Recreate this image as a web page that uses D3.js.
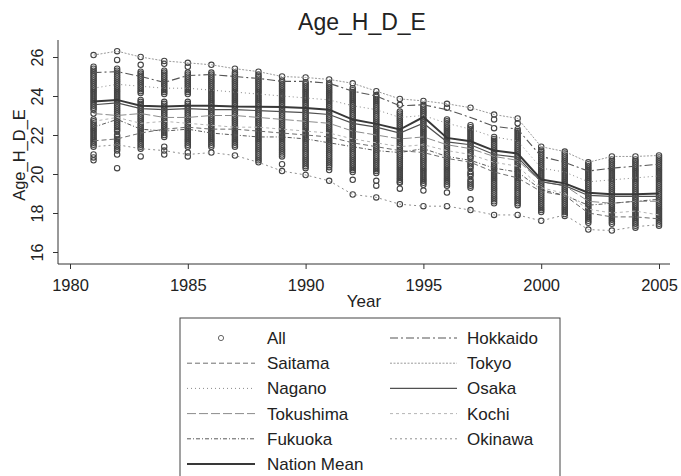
<!DOCTYPE html>
<html>
<head>
<meta charset="utf-8">
<script src="https://cdn.jsdelivr.net/npm/d3@7"></script>
<style>
  html, body { margin: 0; padding: 0; background: #fff; }
  svg { display: block; font-family: "Liberation Sans", Arial, sans-serif; }
</style>
</head>
<body>
<svg id="chart" width="681" height="476"></svg>
<script>
// Survey years
const years = d3.range(1981, 2006);

// Every prefecture's value per year (one string per year, 1981..2005)
const allValues = [
  "26.1 25.5 25.4 25.3 25.2 25.1 25.0 24.9 24.8 24.7 24.6 24.5 24.4 24.3 24.2 24.1 24.0 23.9 23.8 23.7 23.6 23.5 23.4 23.3 23.1 22.8 22.7 22.6 22.5 22.4 22.3 22.2 22.1 22.0 21.9 21.8 21.7 21.6 21.5 21.4 21.0 20.85 20.7",
  "26.3 25.85 25.4 25.3 25.2 25.1 25.0 24.9 24.8 24.7 24.6 24.5 24.4 24.3 24.2 24.1 24.0 23.9 23.8 23.7 23.6 23.5 23.4 23.3 23.2 23.1 23.0 22.9 22.8 22.7 22.6 22.5 22.4 22.3 22.2 22.0 21.9 21.8 21.7 21.6 21.5 21.4 21.3 21.2 21.0 20.3",
  "26.0 25.6 25.25 25.15 25.05 24.95 24.85 24.75 24.65 24.55 24.45 24.35 24.25 24.15 23.8 23.7 23.6 23.5 23.4 23.3 23.2 23.1 23.0 22.9 22.8 22.7 22.6 22.5 22.4 22.3 22.2 22.1 22.0 21.9 21.8 21.7 21.6 21.5 21.4 21.3 20.9",
  "25.8 25.65 25.3 25.2 25.1 25.0 24.9 24.8 24.7 24.6 24.5 24.4 24.3 24.2 24.1 23.7 23.6 23.5 23.4 23.3 23.2 23.1 23.0 22.9 22.8 22.7 22.6 22.5 22.4 22.3 22.2 22.1 22.0 21.9 21.4 21.2 21.0",
  "25.7 25.5 25.2 25.1 25.0 24.9 24.8 24.7 24.6 24.5 24.4 24.3 24.2 24.1 23.7 23.6 23.5 23.4 23.3 23.2 23.1 23.0 22.9 22.8 22.7 22.6 22.5 22.4 22.3 22.2 22.1 22.0 21.9 21.8 21.7 21.6 21.5 21.4 21.1 20.9",
  "25.6 25.2 25.1 25.0 24.9 24.8 24.7 24.6 24.5 24.4 24.3 24.2 24.1 24.0 23.9 23.8 23.7 23.6 23.5 23.4 23.3 23.2 23.1 23.0 22.9 22.8 22.7 22.6 22.5 22.4 22.3 22.2 22.1 22.0 21.9 21.8 21.7 21.6 21.5 21.4 21.1",
  "25.4 25.2 25.1 25.0 24.9 24.8 24.7 24.6 24.5 24.4 24.3 24.2 24.1 24.0 23.9 23.8 23.7 23.6 23.5 23.4 23.3 23.2 23.1 23.0 22.9 22.8 22.7 22.6 22.5 22.4 22.3 22.2 22.1 22.0 21.9 21.8 21.7 21.6 21.5 21.4 20.95",
  "25.25 25.1 25.0 24.9 24.8 24.7 24.6 24.5 24.4 24.3 24.2 24.1 24.0 23.9 23.8 23.7 23.6 23.5 23.4 23.3 23.2 23.1 23.0 22.9 22.8 22.7 22.6 22.5 22.4 22.3 22.2 22.1 22.0 21.9 21.8 21.7 21.6 21.5 21.4 21.3 21.2 21.1 21.0 20.9 20.8 20.7 20.6",
  "25.0 24.8 24.7 24.6 24.5 24.4 24.3 24.2 24.1 24.0 23.9 23.8 23.7 23.6 23.5 23.4 23.3 23.2 23.1 23.0 22.9 22.8 22.7 22.6 22.5 22.4 22.3 22.2 22.1 22.0 21.9 21.8 21.7 21.6 21.5 21.4 21.3 21.2 21.1 21.0 20.9 20.5 20.15",
  "24.95 24.7 24.6 24.5 24.4 24.3 24.2 24.1 24.0 23.9 23.8 23.7 23.6 23.5 23.4 23.3 23.2 23.1 23.0 22.9 22.8 22.7 22.6 22.5 22.4 22.3 22.2 22.1 22.0 21.9 21.8 21.7 21.6 21.5 21.4 21.3 21.2 21.1 21.0 20.9 20.8 20.7 20.6 20.5 20.4 20.3 19.95",
  "24.85 24.65 24.55 24.45 24.35 24.25 24.15 24.05 23.95 23.85 23.75 23.65 23.55 23.45 23.35 23.25 23.15 23.05 22.95 22.85 22.75 22.65 22.55 22.45 22.35 22.25 22.15 22.05 21.95 21.85 21.75 21.65 21.55 21.45 21.35 21.25 21.15 21.05 20.95 20.85 20.75 20.65 20.55 20.45 20.35 20.2 19.65",
  "24.65 24.4 24.3 24.2 24.1 24.0 23.9 23.8 23.7 23.6 23.5 23.4 23.3 23.2 23.1 23.0 22.9 22.8 22.7 22.6 22.5 22.4 22.3 22.2 22.1 22.0 21.9 21.8 21.7 21.6 21.5 21.4 21.3 21.2 21.1 21.0 20.9 20.8 20.7 20.6 20.5 20.4 20.3 20.2 20.1 19.7 18.95",
  "24.25 24.05 23.95 23.85 23.75 23.65 23.55 23.45 23.35 23.25 23.15 23.05 22.95 22.85 22.75 22.65 22.55 22.45 22.35 22.25 22.15 22.05 21.95 21.85 21.75 21.65 21.55 21.45 21.35 21.25 21.15 21.05 20.95 20.85 20.75 20.65 20.55 20.45 20.35 20.25 20.15 20.05 19.65 19.4 18.8",
  "23.85 23.55 23.2 23.1 23.0 22.9 22.8 22.7 22.6 22.5 22.4 22.3 22.2 22.1 22.0 21.9 21.8 21.7 21.6 21.5 21.4 21.3 21.2 21.1 21.0 20.9 20.8 20.7 20.6 20.5 20.4 20.3 20.2 20.1 20.0 19.9 19.8 19.7 19.6 19.55 19.25 18.45",
  "23.75 23.55 23.45 23.35 23.25 23.15 23.05 22.95 22.85 22.75 22.65 22.55 22.45 22.35 22.25 22.15 22.05 21.95 21.85 21.75 21.65 21.55 21.45 21.35 21.25 21.15 21.05 20.95 20.85 20.75 20.65 20.55 20.45 20.35 20.25 20.15 20.05 19.95 19.85 19.75 19.65 19.55 19.45 19.15 18.35",
  "23.6 23.4 22.8 22.7 22.6 22.5 22.4 22.3 22.2 22.1 22.0 21.9 21.8 21.7 21.6 21.5 21.4 21.3 21.2 21.1 21.0 20.9 20.8 20.7 20.6 20.5 20.4 20.3 20.2 20.1 20.0 19.9 19.8 19.7 19.6 19.5 19.4 19.05 18.35",
  "23.4 22.5 22.4 22.3 22.2 22.1 22.0 21.9 21.8 21.7 21.6 21.5 21.4 21.3 21.2 21.1 21.0 20.9 20.8 20.6 20.5 20.4 20.3 20.1 20.0 19.9 19.7 19.6 19.5 19.4 19.3 18.7 18.15",
  "23.05 22.8 22.35 21.9 21.8 21.7 21.6 21.5 21.4 21.3 21.2 21.1 21.0 20.9 20.8 20.7 20.6 20.5 20.4 20.3 20.2 20.1 20.0 19.9 19.8 19.7 19.6 19.5 19.4 19.3 19.2 19.1 19.0 18.9 18.8 18.7 18.6 18.5 17.9",
  "22.85 22.6 22.3 22.2 22.1 22.0 21.9 21.8 21.7 21.6 21.5 21.4 21.3 21.2 21.1 21.0 20.9 20.8 20.7 20.6 20.5 20.4 20.3 20.2 20.1 20.0 19.9 19.8 19.7 19.6 19.5 19.4 19.3 19.2 19.1 19.0 18.9 18.8 18.7 18.6 18.5 18.4 17.9",
  "21.4 21.25 21.15 21.05 20.95 20.85 20.75 20.65 20.55 20.45 20.35 20.25 20.15 20.05 19.95 19.85 19.75 19.65 19.55 19.45 19.35 19.25 19.15 19.05 18.95 18.85 18.75 18.65 18.55 18.45 18.35 18.25 18.15 18.05 17.6",
  "21.15 21.05 20.95 20.85 20.75 20.65 20.55 20.45 20.35 20.25 20.15 20.05 19.95 19.85 19.75 19.65 19.55 19.45 19.35 19.25 19.15 19.05 18.95 18.85 18.75 18.65 18.55 18.45 18.35 18.25 18.15 18.05 17.95 17.85",
  "20.6 20.5 20.4 20.3 20.2 20.1 20.0 19.9 19.8 19.7 19.6 19.5 19.4 19.3 19.2 19.1 19.0 18.9 18.8 18.7 18.6 18.5 18.4 18.3 18.2 18.1 18.0 17.9 17.8 17.7 17.6 17.5 17.15",
  "20.9 20.75 20.65 20.55 20.45 20.35 20.25 20.15 20.05 19.95 19.85 19.75 19.65 19.55 19.45 19.35 19.25 19.15 19.05 18.95 18.85 18.75 18.65 18.55 18.45 18.35 18.25 18.15 18.05 17.95 17.85 17.75 17.65 17.55 17.45 17.1",
  "20.9 20.75 20.65 20.55 20.45 20.35 20.25 20.15 20.05 19.95 19.85 19.75 19.65 19.55 19.45 19.35 19.25 19.15 19.05 18.95 18.85 18.75 18.65 18.55 18.45 18.35 18.25 18.15 18.05 17.95 17.85 17.75 17.65 17.55 17.45 17.35 17.25",
  "20.95 20.85 20.75 20.65 20.55 20.45 20.35 20.25 20.15 20.05 19.95 19.85 19.75 19.65 19.55 19.45 19.35 19.25 19.15 19.05 18.95 18.85 18.75 18.65 18.55 18.45 18.35 18.25 18.15 18.05 17.95 17.85 17.75 17.65 17.55 17.45 17.35"
];

// Selected prefectures and the national mean, 1981..2005
const hokkaido  = [25.2, 25.25, 25.0, 24.7, 25.05, 25.1, 25.0, 24.9, 24.75, 24.75, 24.65, 24.25, 24.0, 23.5, 23.55, 23.3, 22.9, 22.45, 22.3, 20.9, 20.6, 20.15, 20.3, 20.4, 20.5];
const saitama   = [21.7, 21.8, 22.1, 22.3, 22.4, 22.3, 22.3, 22.2, 22.1, 22.0, 21.9, 21.6, 21.4, 21.2, 21.1, 20.8, 20.6, 20.1, 19.8, 19.1, 18.9, 18.0, 17.8, 17.8, 17.7];
const tokyo     = [26.1, 26.3, 26.0, 25.8, 25.7, 25.6, 25.4, 25.25, 25.0, 24.95, 24.85, 24.65, 24.25, 23.85, 23.75, 23.6, 23.4, 23.05, 22.85, 21.4, 21.15, 20.6, 20.9, 20.9, 20.95];
const nagano    = [24.4, 24.6, 24.5, 24.4, 24.4, 24.3, 24.2, 24.1, 24.0, 23.9, 23.8, 23.5, 23.3, 22.9, 23.0, 22.6, 22.3, 21.9, 21.7, 20.3, 20.1, 19.6, 19.7, 19.8, 19.9];
const osaka     = [23.55, 23.65, 23.35, 23.3, 23.35, 23.3, 23.3, 23.25, 23.2, 23.15, 23.05, 22.6, 22.4, 22.1, 22.6, 21.65, 21.5, 21.0, 20.85, 19.6, 19.4, 18.9, 18.85, 18.85, 18.85];
const tokushima = [23.1, 23.0, 23.1, 22.9, 22.9, 23.0, 23.0, 22.9, 22.8, 22.7, 22.6, 22.2, 22.0, 21.8, 21.9, 21.5, 21.3, 20.9, 20.7, 19.6, 19.4, 18.6, 18.5, 18.6, 18.6];
const kochi     = [22.7, 22.9, 22.6, 22.7, 22.6, 22.5, 22.4, 22.4, 22.3, 22.2, 22.1, 21.8, 21.6, 21.4, 21.5, 21.2, 21.0, 20.6, 20.4, 19.3, 19.0, 18.2, 18.0, 18.1, 17.9];
const fukuoka   = [22.4, 22.8, 22.3, 22.2, 22.3, 22.1, 22.0, 21.9, 21.9, 21.8, 21.6, 21.4, 21.2, 21.1, 21.3, 20.9, 20.7, 20.3, 20.1, 19.2, 18.9, 18.4, 18.5, 18.6, 18.7];
const okinawa   = [21.4, 21.5, 21.3, 21.2, 21.0, 21.1, 20.95, 20.6, 20.15, 19.95, 19.65, 18.95, 18.8, 18.45, 18.35, 18.35, 18.15, 17.9, 17.9, 17.6, 17.9, 17.15, 17.1, 17.3, 17.4];
const nationMean = [23.72, 23.8, 23.5, 23.46, 23.5, 23.5, 23.46, 23.45, 23.43, 23.38, 23.3, 22.79, 22.57, 22.28, 22.92, 21.85, 21.68, 21.2, 21.05, 19.72, 19.52, 19.04, 18.96, 18.96, 19.0];

const xTicks = [1980, 1985, 1990, 1995, 2000, 2005];
const yTicks = [16, 18, 20, 22, 24, 26];

// Line series with their stroke styles (legend order: left column, then right)
const series = [
  { name: "Saitama",     values: saitama,    color: "#6e6e6e", width: 1,   dash: "5,3" },
  { name: "Nagano",      values: nagano,     color: "#8a8a8a", width: 1,   dash: "1,3" },
  { name: "Tokushima",   values: tokushima,  color: "#8c8c8c", width: 1,   dash: "9,3" },
  { name: "Fukuoka",     values: fukuoka,    color: "#5a5a5a", width: 1,   dash: "4,2,1,2" },
  { name: "Nation Mean", values: nationMean, color: "#383838", width: 2,   dash: null },
  { name: "Hokkaido",    values: hokkaido,   color: "#555555", width: 1.1, dash: "8,3,2,3" },
  { name: "Tokyo",       values: tokyo,      color: "#9a9a9a", width: 1,   dash: "2,1.5" },
  { name: "Osaka",       values: osaka,      color: "#505050", width: 1.2, dash: null },
  { name: "Kochi",       values: kochi,      color: "#b5b5b5", width: 1,   dash: "3,3" },
  { name: "Okinawa",     values: okinawa,    color: "#8f8f8f", width: 1,   dash: "2,3" }
];

const svg = d3.select("#chart");

const x = d3.scaleLinear().domain([1980, 2005]).range([70, 659]);
const y = d3.scaleLinear().domain([16, 26]).range([252, 57]);

const axisLeftX = 58, axisBottomY = 264;

// Title
svg.append("text")
  .attr("x", 362).attr("y", 30)
  .attr("text-anchor", "middle")
  .attr("font-size", 23).attr("fill", "#222")
  .text("Age_H_D_E");

// Scatter of all prefectures
const points = [];
allValues.forEach((s, i) => {
  s.split(" ").forEach(v => points.push({ year: years[i], value: +v }));
});
svg.append("g")
  .selectAll("circle")
  .data(points)
  .join("circle")
  .attr("cx", d => x(d.year))
  .attr("cy", d => y(d.value))
  .attr("r", 2.7)
  .attr("fill", "none")
  .attr("stroke", "#444")
  .attr("stroke-width", 1.1);

// Prefecture lines and national mean
const line = d3.line()
  .x((d, i) => x(years[i]))
  .y(d => y(d));

svg.append("g")
  .selectAll("path")
  .data(series)
  .join("path")
  .attr("d", d => line(d.values))
  .attr("fill", "none")
  .attr("stroke", d => d.color)
  .attr("stroke-width", d => d.width)
  .attr("stroke-dasharray", d => d.dash);

// Axes
const xAxis = d3.axisBottom(x).tickValues(xTicks).tickFormat(d3.format("d")).tickSize(5).tickSizeOuter(0);
const gx = svg.append("g").attr("transform", `translate(0,${axisBottomY})`).call(xAxis);
gx.select(".domain").remove();
gx.append("line").attr("x1", axisLeftX).attr("x2", 670).attr("stroke", "#333");
gx.selectAll(".tick line").attr("stroke", "#333");
gx.selectAll(".tick text")
  .attr("font-size", 16.5).attr("fill", "#222")
  .attr("font-family", "Liberation Sans, Arial, sans-serif")
  .attr("y", 27).attr("dy", 0);

const yAxis = d3.axisLeft(y).tickValues(yTicks).tickSize(5).tickSizeOuter(0);
const gy = svg.append("g").attr("transform", `translate(${axisLeftX},0)`).call(yAxis);
gy.select(".domain").remove();
gy.append("line").attr("y1", 40).attr("y2", axisBottomY).attr("stroke", "#333");
gy.selectAll(".tick line").attr("stroke", "#333");
gy.selectAll(".tick text")
  .attr("font-size", 16).attr("fill", "#222")
  .attr("font-family", "Liberation Sans, Arial, sans-serif")
  .attr("x", 0).attr("dy", 0)
  .attr("text-anchor", "middle")
  .attr("transform", "translate(-15,0) rotate(-90)");

// Axis titles
svg.append("text")
  .attr("x", 364).attr("y", 307)
  .attr("text-anchor", "middle")
  .attr("font-size", 17).attr("fill", "#222")
  .text("Year");

svg.append("text")
  .attr("transform", "translate(25,155) rotate(-90)")
  .attr("text-anchor", "middle")
  .attr("font-size", 16.5).attr("fill", "#222")
  .text("Age_H_D_E");

// Legend
const legend = svg.append("g");
legend.append("rect")
  .attr("x", 180).attr("y", 318)
  .attr("width", 380).attr("height", 180)
  .attr("fill", "none").attr("stroke", "#444").attr("stroke-width", 1);

const rowY = i => 338 + i * 25.2;
const legendItems = [{ name: "All", marker: true }].concat(series);
legendItems.forEach((d, k) => {
  // "All" plus first five lines on the left, remaining five on the right
  const col = k < 6 ? 0 : 1;
  const row = k < 6 ? k : k - 6;
  const x0 = col === 0 ? 187 : 390;
  const x1 = col === 0 ? 255 : 457;
  const tx = col === 0 ? 267 : 467;
  const cy = rowY(row);
  if (d.marker) {
    legend.append("circle")
      .attr("cx", (x0 + x1) / 2).attr("cy", cy).attr("r", 2.6)
      .attr("fill", "none").attr("stroke", "#555").attr("stroke-width", 0.9);
  } else {
    legend.append("line")
      .attr("x1", x0).attr("x2", x1).attr("y1", cy).attr("y2", cy)
      .attr("stroke", d.color)
      .attr("stroke-width", d.width)
      .attr("stroke-dasharray", d.dash);
  }
  legend.append("text")
    .attr("x", tx).attr("y", cy + 6)
    .attr("font-size", 17).attr("fill", "#222")
    .text(d.name);
});
</script>
</body>
</html>
